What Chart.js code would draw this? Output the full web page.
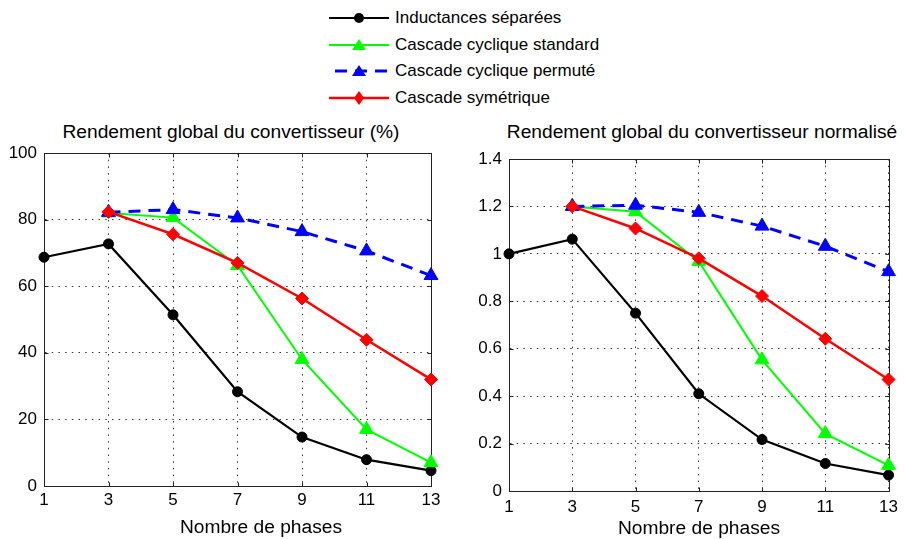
<!DOCTYPE html>
<html>
<head>
<meta charset="utf-8">
<script src="https://cdn.jsdelivr.net/npm/chart.js@4.4.0/dist/chart.umd.min.js"></script>
<style>
    body {
        margin: 0;
        width: 904px;
        height: 539px;
        overflow: hidden;
        position: relative;
        background: #fff;
        color: #000;
        font-family: 'Liberation Sans', Arial, sans-serif;
    }
    canvas { position: absolute; }
    .title, .xtitle {
        position: absolute;
        font-size: 19.2px;
        line-height: 22px;
        white-space: nowrap;
        transform: translateX(-50%);
    }
    #legend {
        position: absolute;
        left: 329px;
        top: 5px;
        font-size: 17px;
    }
    .row {
        height: 26.5px;
        display: flex;
        align-items: center;
    }
    .row svg { margin-right: 6px; }
</style>
</head>
<body>
<div id="legend"></div>

<div class="title" style="left:231px; top:121px;">Rendement global du convertisseur (%)</div>
<div class="title" style="left:702px; top:121px;">Rendement global du convertisseur normalisé</div>

<canvas id="pctChart" width="450" height="429" style="left:0; top:110px;"></canvas>
<canvas id="normChart" width="444" height="429" style="left:460px; top:110px;"></canvas>

<div class="xtitle" style="left:261px; top:516px;">Nombre de phases</div>
<div class="xtitle" style="left:699px; top:517px;">Nombre de phases</div>

<script>
// Data
const phases = [1, 3, 5, 7, 9, 11, 13];
const seriesNames = ['Inductances séparées', 'Cascade cyclique standard', 'Cascade cyclique permuté', 'Cascade symétrique'];

const pctSepares = [68.7, 72.7, 51.4, 28.3, 14.7, 7.9, 4.6];
const pctStandard = [null, 82, 80.6, 66.2, 38, 17, 7];
const pctPermute = [null, 82.2, 83, 80.5, 76.4, 70.6, 63.2];
const pctSymetrique = [null, 82.3, 75.6, 67, 56.3, 43.9, 32];

const normSepares = [1.0, 1.062, 0.75, 0.41, 0.217, 0.116, 0.067];
const normStandard = [null, 1.2, 1.178, 0.968, 0.553, 0.242, 0.108];
const normPermute = [null, 1.2, 1.205, 1.175, 1.117, 1.032, 0.925];
const normSymetrique = [null, 1.2, 1.107, 0.981, 0.822, 0.642, 0.47];

const styles = [
    { color: '#000000', point: 'circle', radius: 5, width: 2.2, dash: [] },
    { color: '#00ff00', point: 'triangle', radius: 8, width: 2, dash: [] },
    { color: '#0000ff', point: 'triangle', radius: 8, width: 3, dash: [12, 8] },
    { color: '#ff0000', point: 'rectRot', radius: 6.5, width: 2.5, dash: [] }
];

Chart.defaults.font.family = "'Liberation Sans', Arial, sans-serif";
Chart.defaults.color = '#000';

// MATLAB-like box round the plot area, with short inward ticks
const framePlugin = {
    id: 'frame',
    beforeDatasetsDraw(chart) {
        const { ctx, chartArea: a, scales } = chart;
        const l = Math.round(a.left) + 0.5, t = Math.round(a.top) + 0.5;
        const r = Math.round(a.right) + 0.5, b = Math.round(a.bottom) + 0.5;
        ctx.save();
        ctx.strokeStyle = '#222';
        ctx.lineWidth = 1;
        ctx.strokeRect(l, t, r - l, b - t);
        ctx.beginPath();
        scales.x.ticks.forEach(tick => {
            const x = Math.round(scales.x.getPixelForValue(tick.value)) + 0.5;
            ctx.moveTo(x, b); ctx.lineTo(x, b - 4);
            ctx.moveTo(x, t); ctx.lineTo(x, t + 4);
        });
        scales.y.ticks.forEach(tick => {
            const y = Math.round(scales.y.getPixelForValue(tick.value)) + 0.5;
            ctx.moveTo(l, y); ctx.lineTo(l + 4, y);
            ctx.moveTo(r, y); ctx.lineTo(r - 4, y);
        });
        ctx.stroke();
        ctx.restore();
    }
};

function toPoints(values) {
    return phases.map((x, i) => ({ x: x, y: values[i] }));
}

function makeDatasets(seriesValues) {
    return seriesValues.map((values, i) => ({
        label: seriesNames[i],
        data: toPoints(values),
        borderColor: styles[i].color,
        backgroundColor: styles[i].color,
        borderWidth: styles[i].width,
        borderDash: styles[i].dash,
        pointStyle: styles[i].point,
        pointRadius: styles[i].radius,
        pointBorderWidth: 1,
        pointHoverRadius: styles[i].radius,
        tension: 0,
        clip: false,
        order: 4 - i
    }));
}

function initializeChart(id, seriesValues, yMax, yStep, box) {
    const ctx = document.getElementById(id).getContext('2d');
    new Chart(ctx, {
        type: 'line',
        data: { datasets: makeDatasets(seriesValues) },
        options: {
            responsive: false,
            animation: false,
            layout: { padding: { top: box.top, right: box.right, left: 0, bottom: 0 } },
            plugins: {
                legend: { display: false },
                title: { display: false },
                tooltip: { enabled: false }
            },
            scales: {
                x: {
                    type: 'linear',
                    min: 1,
                    max: 13,
                    afterFit: (scale) => { scale.height = box.xHeight; },
                    ticks: {
                        stepSize: 2,
                        padding: box.xPad,
                        maxRotation: 0,
                        font: { size: 17 },
                        color: '#000'
                    },
                    grid: { color: '#333', lineWidth: 1, drawTicks: false },
                    border: { display: true, color: '#222', dash: [1.5, 5.2] }
                },
                y: {
                    min: 0,
                    max: yMax,
                    afterFit: (scale) => { scale.width = box.yWidth; },
                    ticks: {
                        stepSize: yStep,
                        padding: 7,
                        font: { size: 17 },
                        color: '#000',
                        callback: (v) => String(Number(v.toFixed(1)))
                    },
                    grid: { color: '#333', lineWidth: 1, drawTicks: false },
                    border: { display: true, color: '#222', dash: [1.5, 5.2] }
                }
            }
        },
        plugins: [framePlugin]
    });
}

function buildLegend() {
    const legend = document.getElementById('legend');
    legend.innerHTML = seriesNames.map((name, i) => {
        const s = styles[i];
        let marker;
        if (s.point === 'circle') {
            marker = `<circle cx="30" cy="7" r="5" fill="${s.color}"/>`;
        } else if (s.point === 'triangle') {
            marker = `<polygon points="23,12 37,12 30,1" fill="${s.color}"/>`;
        } else {
            marker = `<polygon points="30,0 35,7 30,14 25,7" fill="${s.color}"/>`;
        }
        const dash = s.dash.length ? 'stroke-dasharray="12 8" stroke-dashoffset="-6"' : '';
        return `
            <div class="row">
                <svg width="60" height="14">
                    <line x1="0" y1="7" x2="60" y2="7" stroke="${s.color}" stroke-width="${s.width}" ${dash}/>
                    ${marker}
                </svg>
                <span>${name}</span>
            </div>`;
    }).join('');
}

buildLegend();
initializeChart('pctChart', [pctSepares, pctStandard, pctPermute, pctSymetrique], 100, 20,
    { top: 43, right: 19, yWidth: 44, xHeight: 53, xPad: 4 });
initializeChart('normChart', [normSepares, normStandard, normPermute, normSymetrique], 1.4, 0.2,
    { top: 49, right: 8, yWidth: 49, xHeight: 48, xPad: 6 });
</script>
</body>
</html>
